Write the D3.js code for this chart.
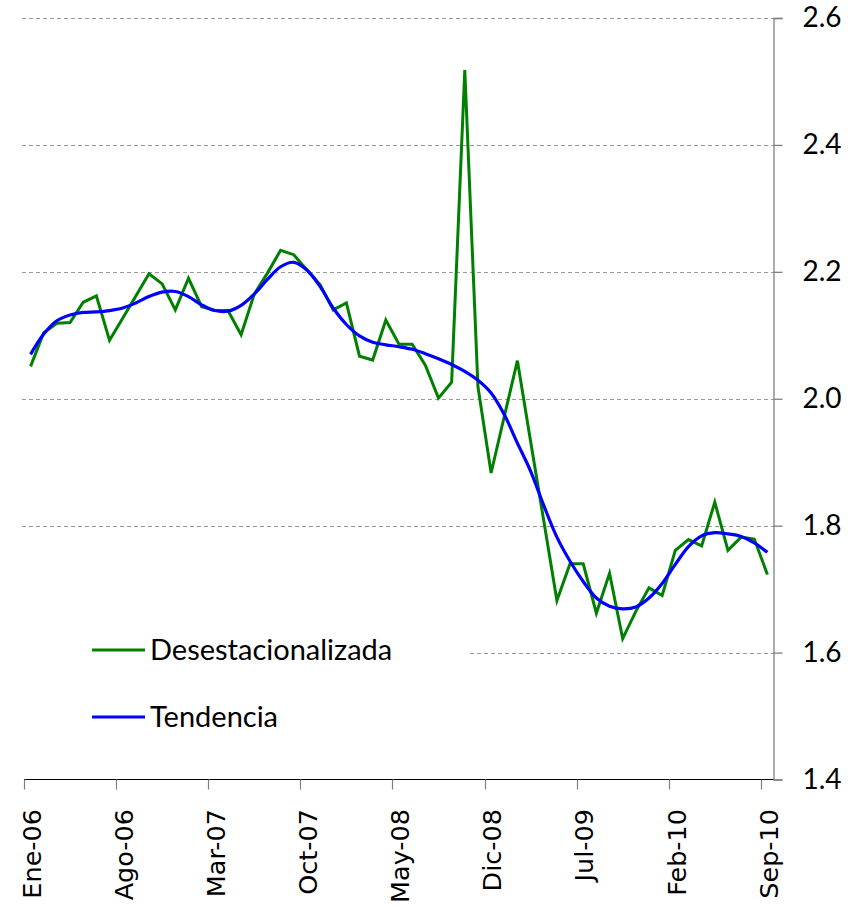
<!DOCTYPE html>
<html>
<head>
<meta charset="utf-8">
<script src="https://cdn.jsdelivr.net/npm/d3@7"></script>
<style>
  body { margin: 0; background: #fff; }
  svg { display: block; }
</style>
</head>
<body>
<script>
// month names used to build the 57 monthly categories (Ene-06 .. Sep-10)
const monthNames = ['Ene', 'Feb', 'Mar', 'Abr', 'May', 'Jun', 'Jul', 'Ago', 'Sep', 'Oct', 'Nov', 'Dic']
const years = ['06', '07', '08', '09', '10']
const categories = []
years.forEach(y => monthNames.forEach(m => categories.push(m + '-' + y)))
categories.length = 57

// labels shown on the axis (every 7 months)
const tickLabels = ['Ene-06', 'Ago-06', 'Mar-07', 'Oct-07', 'May-08', 'Dic-08', 'Jul-09', 'Feb-10', 'Sep-10']
const yTicks = [1.4, 1.6, 1.8, 2.0, 2.2, 2.4, 2.6]

// seasonally adjusted series
const desest = [
  2.051, 2.104, 2.119, 2.120, 2.152, 2.162, 2.092, 2.127, 2.162, 2.197,
  2.181, 2.140, 2.190, 2.145, 2.139, 2.139, 2.101, 2.165, 2.198, 2.234,
  2.227, 2.203, 2.180, 2.140, 2.151, 2.067, 2.061, 2.124, 2.086, 2.086,
  2.053, 2.001, 2.026, 2.518, 2.019, 1.883, 1.972, 2.060, 1.933, 1.808,
  1.682, 1.740, 1.740, 1.662, 1.725, 1.622, 1.665, 1.702, 1.690, 1.761,
  1.778, 1.768, 1.837, 1.761, 1.782, 1.779, 1.723
]

// trend series
const tendencia = [
  2.070, 2.102, 2.123, 2.132, 2.136, 2.137, 2.139, 2.143, 2.151, 2.161,
  2.168, 2.169, 2.161, 2.148, 2.139, 2.138, 2.147, 2.165, 2.188, 2.208,
  2.215, 2.203, 2.177, 2.143, 2.117, 2.099, 2.089, 2.085, 2.082, 2.078,
  2.071, 2.063, 2.054, 2.043, 2.029, 2.009, 1.975, 1.930, 1.886, 1.832,
  1.782, 1.744, 1.712, 1.686, 1.673, 1.669, 1.672, 1.686, 1.709, 1.739,
  1.767, 1.784, 1.789, 1.787, 1.783, 1.773, 1.758
]

const width = 860
const height = 907
const plotLeft = 24, plotRight = 774, plotTop = 18, plotBottom = 779.5

const svg = d3.select('body')
    .append('svg')
    .attr('width', width)
    .attr('height', height)

const x = d3.scaleBand()
    .domain(categories)
    .range([plotLeft, plotRight])
    .paddingInner(0)
    .paddingOuter(0)

const y = d3.scaleLinear()
    .domain([1.4, 2.6])
    .range([plotBottom, plotTop])

const xc = (d, i) => x(categories[i]) + x.bandwidth() / 2

// gridlines
svg.append('g')
    .selectAll('line')
    .data(yTicks.filter(d => d > 1.4))
    .enter()
    .append('line')
    .attr('x1', plotLeft - 2)
    .attr('x2', plotRight)
    .attr('y1', d => Math.round(y(d)) + 0.5)
    .attr('y2', d => Math.round(y(d)) + 0.5)
    .attr('stroke', '#9a9a9a')
    .attr('stroke-width', 1.2)
    .attr('stroke-dasharray', '4,3')

// legend box (white, hides part of the 1.6 gridline)
svg.append('rect')
    .attr('x', plotLeft - 3)
    .attr('y', 622)
    .attr('width', 470 - plotLeft + 3)
    .attr('height', 125)
    .attr('fill', '#fff')

// x axis: ticks between categories, labels centred on them
svg.append('line')
    .attr('x1', plotLeft)
    .attr('x2', plotRight)
    .attr('y1', plotBottom)
    .attr('y2', plotBottom)
    .attr('stroke', '#000')
    .attr('stroke-width', 1.2)

const tickIdx = tickLabels.map(l => categories.indexOf(l))

svg.append('g')
    .selectAll('line')
    .data(tickIdx)
    .enter()
    .append('line')
    .attr('x1', i => Math.round(x(categories[i])) + 0.5)
    .attr('x2', i => Math.round(x(categories[i])) + 0.5)
    .attr('y1', plotBottom)
    .attr('y2', plotBottom + 10)
    .attr('stroke', '#808080')
    .attr('stroke-width', 1.2)

svg.append('g')
    .selectAll('text')
    .data(tickIdx)
    .enter()
    .append('text')
    .attr('transform', i => 'translate(' + (x(categories[i]) + x.bandwidth() / 2 + 1) + ',809) rotate(-90)')
    .attr('text-anchor', 'end')
    .attr('dy', '0.36em')
    .style('font-family', '"DejaVu Sans", sans-serif')
    .style('font-size', '25.5px')
    .attr('fill', '#000')
    .text(i => categories[i])

// right y axis
const yAxis = d3.axisRight(y)
    .tickValues(yTicks)
    .tickSize(9)
    .tickPadding(20)
    .tickFormat(d3.format('.1f'))

const ya = svg.append('g')
    .attr('transform', 'translate(' + (plotRight - 0.5) + ',0)')
    .call(yAxis)
ya.select('.domain').attr('stroke', '#808080').attr('stroke-width', 1.3)
ya.selectAll('.tick line').attr('stroke', '#808080').attr('stroke-width', 1.3)
ya.selectAll('.tick text')
    .style('font-family', 'Lato, "Open Sans", sans-serif')
    .style('font-size', '28px')
    .attr('fill', '#000')

// series
const lineGen = d3.line()
    .x(xc)
    .y(d => y(d))

svg.append('path')
    .datum(desest)
    .attr('fill', 'none')
    .attr('stroke', '#008000')
    .attr('stroke-width', 3)
    .attr('stroke-linejoin', 'miter')
    .attr('d', lineGen)

svg.append('path')
    .datum(tendencia)
    .attr('fill', 'none')
    .attr('stroke', '#0000ff')
    .attr('stroke-width', 3.2)
    .attr('d', lineGen.curve(d3.curveCatmullRom))

// legend
const legendItems = [
  { label: 'Desestacionalizada', color: '#008000', y: 650 },
  { label: 'Tendencia', color: '#0000ff', y: 717 }
]
const lg = svg.append('g')
lg.selectAll('line')
    .data(legendItems)
    .enter()
    .append('line')
    .attr('x1', 92)
    .attr('x2', 145)
    .attr('y1', d => d.y)
    .attr('y2', d => d.y)
    .attr('stroke', d => d.color)
    .attr('stroke-width', 3)
lg.selectAll('text')
    .data(legendItems)
    .enter()
    .append('text')
    .attr('x', 150)
    .attr('y', d => d.y)
    .attr('dy', '0.36em')
    .style('font-family', 'Lato, "Open Sans", sans-serif')
    .style('font-size', '29px')
    .attr('fill', '#000')
    .text(d => d.label)
</script>
</body>
</html>
